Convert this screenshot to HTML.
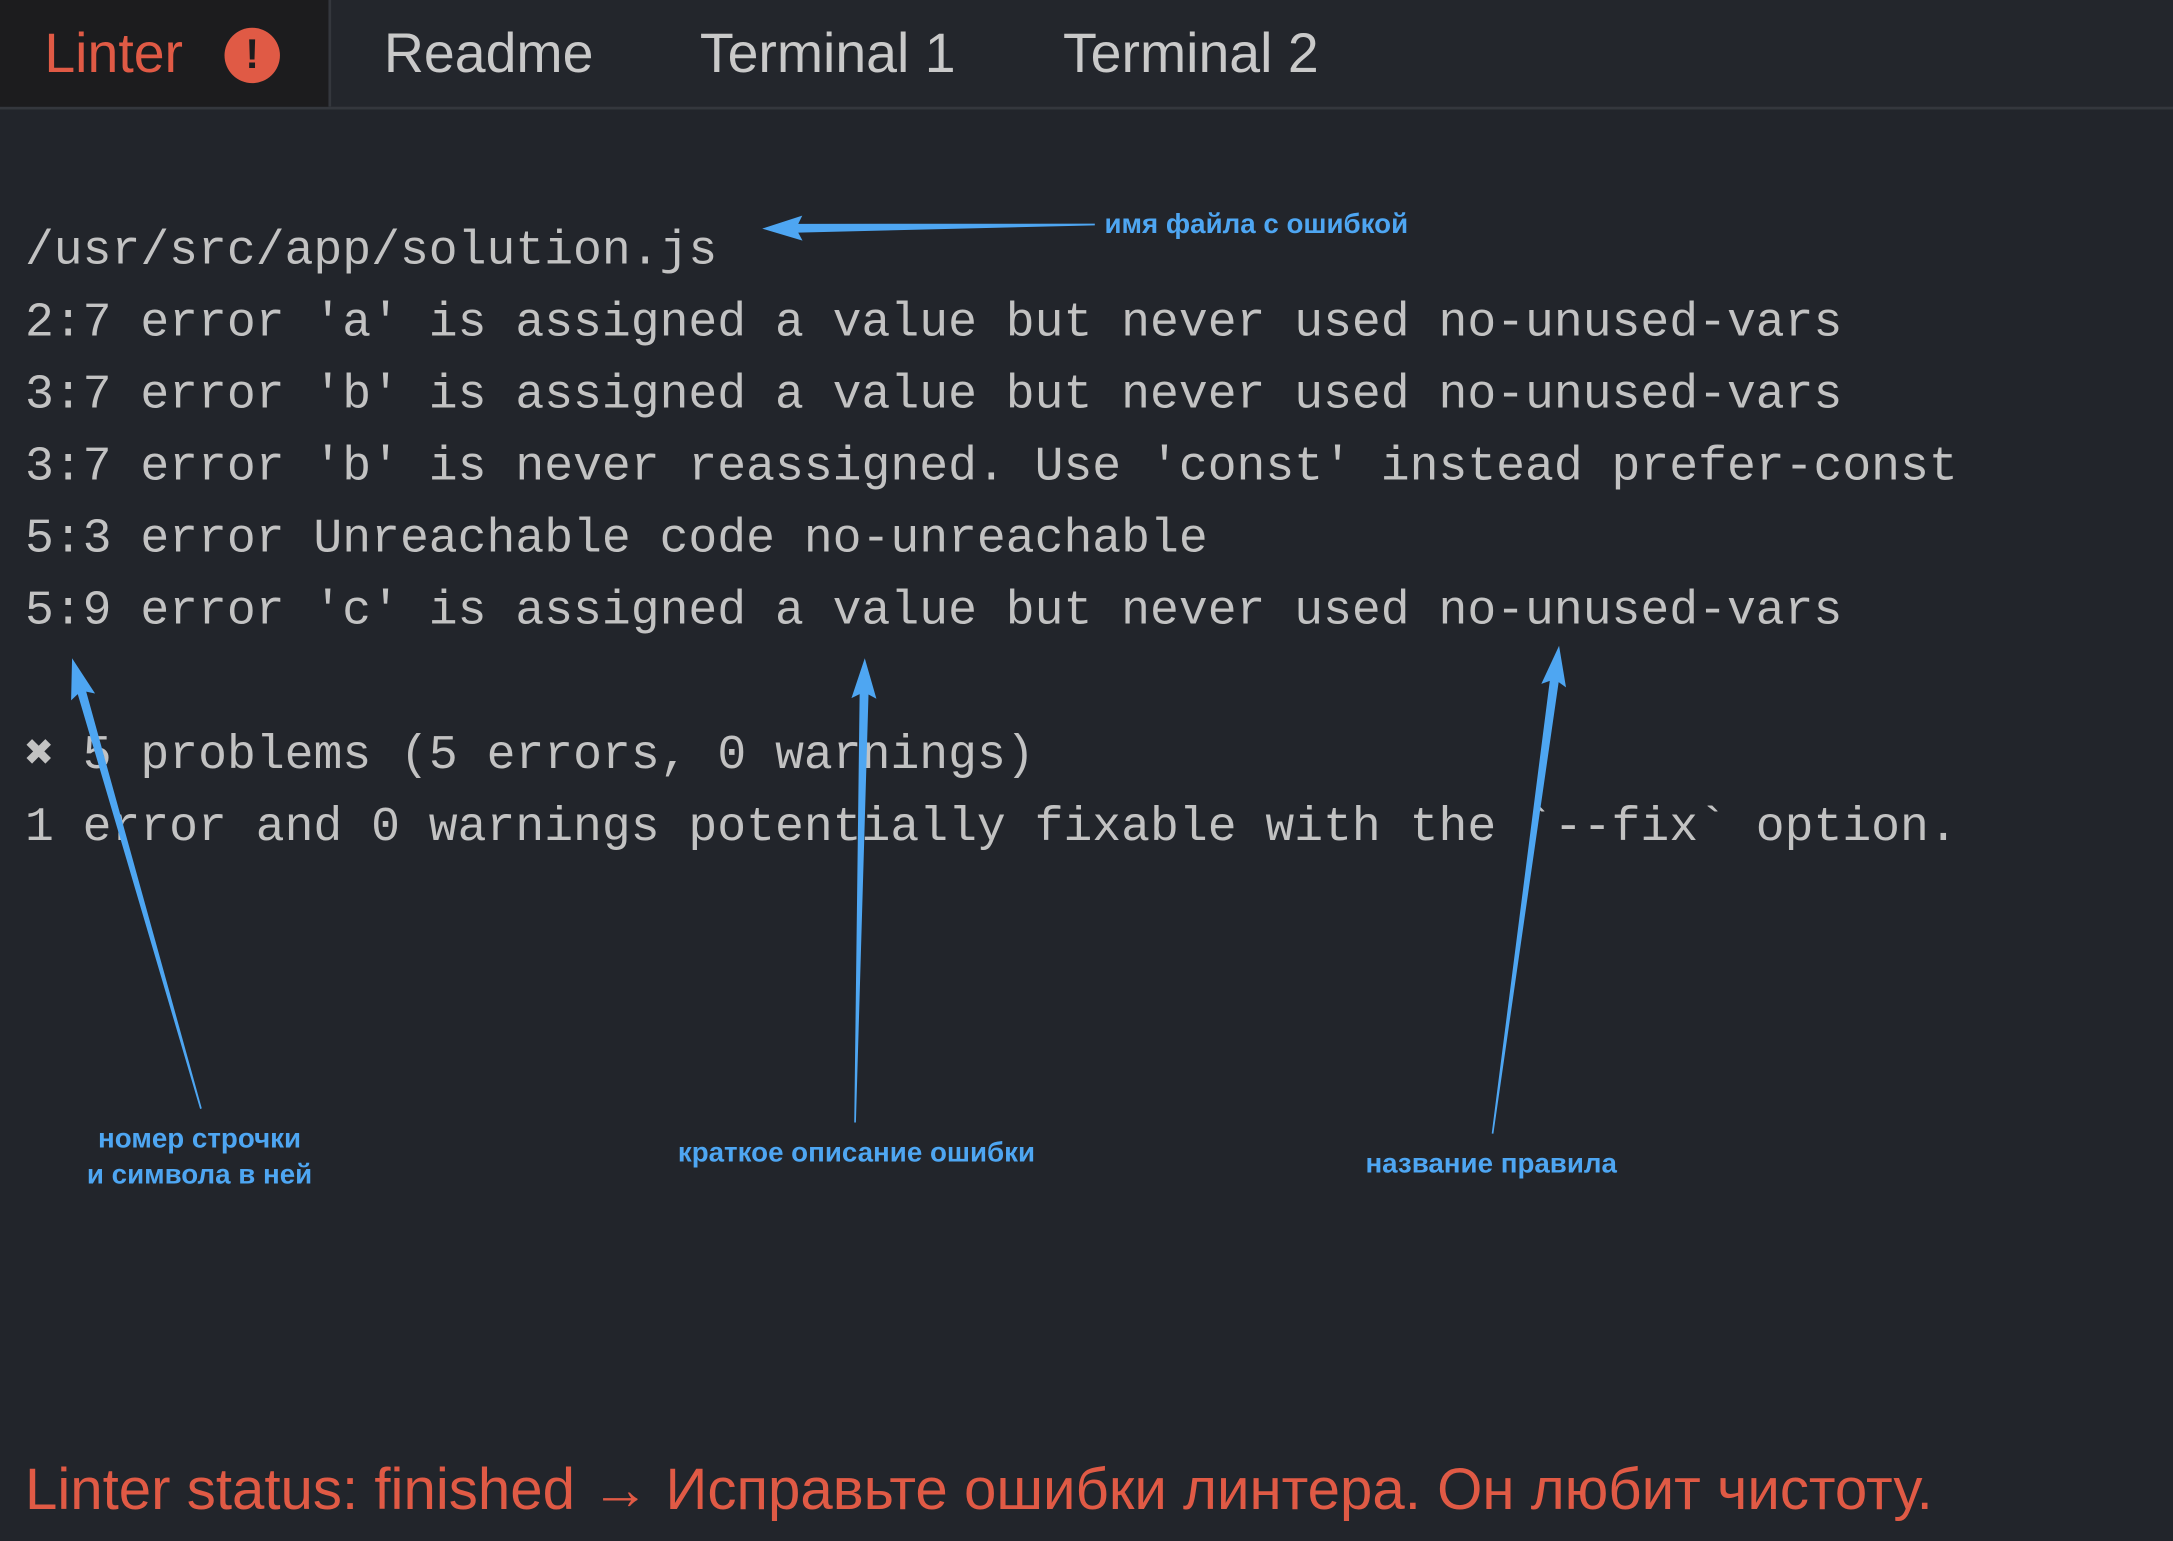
<!DOCTYPE html>
<html><head><meta charset="utf-8"><style>
html,body{margin:0;padding:0;width:2173px;height:1541px;overflow:hidden;background:#22252b}
#w{position:absolute;left:0;top:0;width:1568px;height:1112px;transform:scale(1.38584);transform-origin:0 0;background:#22252b}
.tabbar{position:absolute;left:0;top:0;width:1568px;height:77px;background:#23262c;border-bottom:2px solid #34373d}
.tab{position:absolute;top:14px;font:40px "Liberation Sans",sans-serif;color:#c9c9c9;line-height:50px}
.active{position:absolute;left:0;top:0;width:237px;height:77px;background:#1c1c1e;border-right:2px solid #34373d}
.ico{position:absolute;left:162px;top:20px;width:40px;height:40px;border-radius:50%;background:#e05a45;color:#1c1c1e;font:bold 30px "Liberation Sans",sans-serif;text-align:center;line-height:40px}
.m{position:absolute;left:18px;font:34.7px "Liberation Mono",monospace;color:#c2c2c2;white-space:pre;line-height:40px}
.a{position:absolute;font:bold 20px "Liberation Sans","DejaVu Sans",sans-serif;color:#4ea6f2;white-space:nowrap;line-height:26px}
.c{text-align:center;transform:translateX(-50%)}
.st{position:absolute;left:18px;top:1050px;font:42px "Liberation Sans",sans-serif;color:#e05a45;white-space:nowrap;line-height:50px}
</style></head><body><div id="w">
<div class="tabbar"></div>
<div class="active"></div>
<div class="tab" style="left:32px;color:#e05a45">Linter</div>
<div class="ico">!</div>
<div class="tab" style="left:277px">Readme</div>
<div class="tab" style="left:505px">Terminal 1</div>
<div class="tab" style="left:767px">Terminal 2</div>

<div class="m" style="top:162px">/usr/src/app/solution.js</div>
<div class="m" style="top:214px">2:7 error 'a' is assigned a value but never used no-unused-vars</div>
<div class="m" style="top:266px">3:7 error 'b' is assigned a value but never used no-unused-vars</div>
<div class="m" style="top:318px">3:7 error 'b' is never reassigned. Use 'const' instead prefer-const</div>
<div class="m" style="top:370px">5:3 error Unreachable code no-unreachable</div>
<div class="m" style="top:422px">5:9 error 'c' is assigned a value but never used no-unused-vars</div>
<div class="m" style="top:526px">✖ 5 problems (5 errors, 0 warnings)</div>
<div class="m" style="top:578px">1 error and 0 warnings potentially fixable with the `--fix` option.</div>

<svg id="s" width="1568" height="1112" style="position:absolute;left:0;top:0"></svg>

<div class="a" style="left:797px;top:149px">имя файла с ошибкой</div>
<div class="a c" style="left:144px;top:809px;text-align:center">номер строчки<br>и символа в ней</div>
<div class="a c" style="left:618px;top:819px">краткое описание ошибки</div>
<div class="a c" style="left:1076px;top:827px">название правила</div>

<div class="st">Linter status: finished → Исправьте ошибки линтера. Он любит чистоту.</div>
</div>
<script>
function arrow(x1,y1,x2,y2){
 var dx=x2-x1,dy=y2-y1,L=Math.hypot(dx,dy),ux=dx/L,uy=dy/L,nx=-uy,ny=ux;
 var hl=26,hw=9,bw=3.2;
 var bx=x2-ux*hl,by=y2-uy*hl;
 var p=[[x1+nx*0.6,y1+ny*0.6],[bx+nx*bw,by+ny*bw],[bx+nx*hw-ux*3,by+ny*hw-uy*3],[x2,y2],[bx-nx*hw-ux*3,by-ny*hw-uy*3],[bx-nx*bw,by-ny*bw],[x1-nx*0.6,y1-ny*0.6]];
 var s=p.map(function(q){return q[0].toFixed(1)+","+q[1].toFixed(1)}).join(" ");
 var e=document.createElementNS("http://www.w3.org/2000/svg","polygon");
 e.setAttribute("points",s);e.setAttribute("fill","#4ea6f2");
 document.getElementById("s").appendChild(e);
}
arrow(790,162,550,165);
arrow(145,800,52,475);
arrow(617,810,624,475);
arrow(1077,818,1125,466);
</script>
</body></html>
